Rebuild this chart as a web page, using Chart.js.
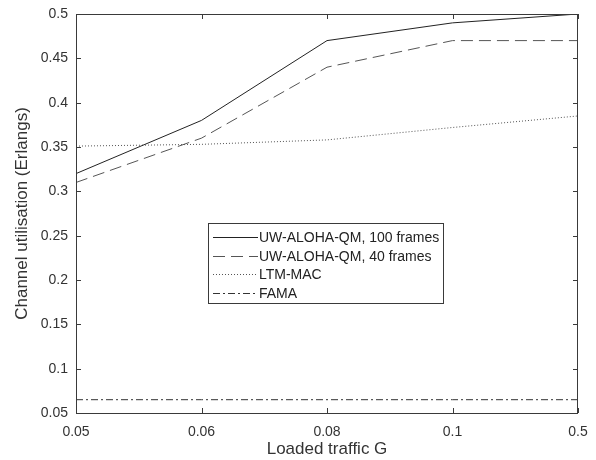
<!DOCTYPE html>
<html>
<head>
<meta charset="utf-8">
<script src="https://cdn.jsdelivr.net/npm/chart.js@4"></script>
<style>
  html, body { margin: 0; padding: 0; background: #fff; }
  #wrap { width: 596px; height: 460px; }
</style>
</head>
<body>
<div id="wrap"><canvas id="myChart" width="596" height="460"></canvas></div>
<script>
const trafficLabels = ['0.05', '0.06', '0.08', '0.1', '0.5'];
const aloha100 = [0.32, 0.38, 0.47, 0.49, 0.5];
const aloha40 = [0.31, 0.36, 0.44, 0.47, 0.47];
const ltmMac = [0.351, 0.353, 0.358, 0.372, 0.385];
const fama = [0.065, 0.065, 0.065, 0.065, 0.065];

const FONT = '"Liberation Sans", Arial, sans-serif';

// box round the plot with inward tick marks on all four sides
const framePlugin = {
    id: 'frame',
    afterDatasetsDraw(chart) {
        const { ctx, chartArea: a, scales: { x, y } } = chart;
        ctx.save();
        ctx.strokeStyle = '#3a3a3a';
        ctx.lineWidth = 1;
        ctx.strokeRect(a.left + 0.5, a.top + 0.5, a.right - a.left - 1, a.bottom - a.top);
        ctx.beginPath();
        y.ticks.forEach(t => {
            const p = Math.round(y.getPixelForValue(t.value)) + 0.5;
            ctx.moveTo(a.left, p); ctx.lineTo(a.left + 5, p);
            ctx.moveTo(a.right - 5, p); ctx.lineTo(a.right, p);
        });
        x.ticks.forEach((t, i) => {
            const p = Math.round(x.getPixelForTick(i)) + 0.5;
            ctx.moveTo(p, a.bottom); ctx.lineTo(p, a.bottom - 5);
            ctx.moveTo(p, a.top); ctx.lineTo(p, a.top + 5);
        });
        ctx.stroke();
        ctx.restore();
    }
};

// legend box sitting inside the plot, like the original
const boxLegend = {
    id: 'boxLegend',
    afterDraw(chart) {
        const { ctx } = chart;
        const x0 = 208, y0 = 223, w = 235, h = 80;
        ctx.save();
        ctx.fillStyle = '#fff';
        ctx.fillRect(x0, y0, w, h);
        ctx.strokeStyle = '#3a3a3a';
        ctx.lineWidth = 1;
        ctx.strokeRect(x0 + 0.5, y0 + 0.5, w, h);
        ctx.font = '14px ' + FONT;
        ctx.textBaseline = 'middle';
        chart.data.datasets.forEach((ds, i) => {
            const ly = y0 + 14 + i * 18.7;
            ctx.beginPath();
            ctx.setLineDash(ds.borderDash || []);
            ctx.strokeStyle = ds.borderColor;
            ctx.lineWidth = ds.borderWidth;
            ctx.moveTo(x0 + 5, Math.round(ly) + 0.5);
            ctx.lineTo(x0 + 50, Math.round(ly) + 0.5);
            ctx.stroke();
            ctx.setLineDash([]);
            ctx.fillStyle = '#222';
            ctx.fillText(ds.label, x0 + 51, ly + 1);
        });
        ctx.restore();
    }
};

const chart = document.getElementById('myChart');
const myChart = new Chart(chart, {
    type: 'line',
    data: {
        labels: trafficLabels,
        datasets: [{
            label: 'UW-ALOHA-QM, 100 frames',
            data: aloha100,
            borderColor: '#222',
            borderWidth: 1
        }, {
            label: 'UW-ALOHA-QM, 40 frames',
            data: aloha40,
            borderColor: '#555',
            borderWidth: 1,
            borderDash: [12, 6]
        }, {
            label: 'LTM-MAC',
            data: ltmMac,
            borderColor: '#555',
            borderWidth: 1,
            borderDash: [1, 2]
        }, {
            label: 'FAMA',
            data: fama,
            borderColor: '#333',
            borderWidth: 1,
            borderDash: [7, 3, 2, 3]
        }]
    },
    options: {
        responsive: false,
        animation: false,
        elements: { point: { radius: 0 }, line: { tension: 0 } },
        layout: { padding: { top: 14, right: 18, left: 0, bottom: 0 } },
        plugins: {
            legend: { display: false },
            tooltip: { enabled: false }
        },
        scales: {
            x: {
                offset: false,
                grid: { display: false, drawTicks: false },
                border: { display: false },
                ticks: { color: '#333', font: { family: FONT, size: 14 }, padding: 11, maxRotation: 0 },
                title: { display: true, text: 'Loaded traffic G', color: '#333', font: { family: FONT, size: 17 }, padding: { top: 0, bottom: 0 } },
                afterFit: s => { s.height = 47; s.paddingLeft = 0; s.paddingRight = 0; }
            },
            y: {
                min: 0.05,
                max: 0.5,
                grid: { display: false, drawTicks: false },
                border: { display: false },
                ticks: {
                    stepSize: 0.05,
                    color: '#333',
                    font: { family: FONT, size: 14 },
                    padding: 8,
                    callback: v => +v.toFixed(2)
                },
                title: { display: true, text: 'Channel utilisation (Erlangs)', color: '#333', font: { family: FONT, size: 17 }, padding: { top: 12, bottom: 0 } },
                afterFit: s => { s.width = 76; s.paddingTop = 0; s.paddingBottom = 0; }
            }
        }
    },
    plugins: [framePlugin, boxLegend]
});
</script>
</body>
</html>
